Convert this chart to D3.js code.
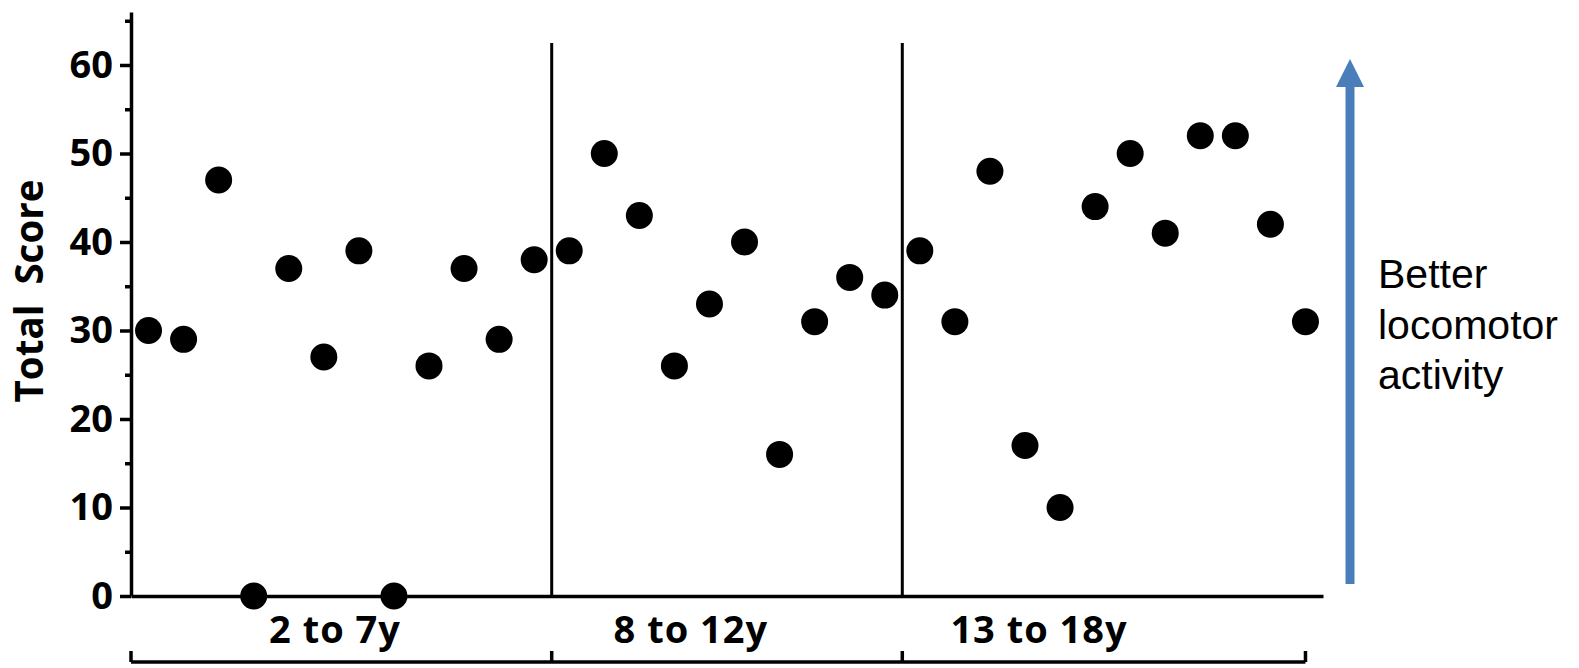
<!DOCTYPE html>
<html>
<head>
<meta charset="utf-8">
<script src="https://cdn.jsdelivr.net/npm/d3@7"></script>
<style>
  body { margin: 0; background: #fff; }
  svg { display: block; }
</style>
</head>
<body>
<div id="chart"></div>
<script>
// data
var groups = ["2 to 7y", "8 to 12y", "13 to 18y"];
var group1 = [30, 29, 47, 0, 37, 27, 39, 0, 26, 37, 29, 38];
var group2 = [39, 50, 43, 26, 33, 40, 16, 31, 36, 34];
var group3 = [39, 31, 48, 17, 10, 44, 50, 41, 52, 52, 42, 31];
var yTicks = [0, 10, 20, 30, 40, 50, 60];
var yMinor = [5, 15, 25, 35, 45, 55, 65];
var labelPos = [5.82, 15.97, 25.9];   // group label centres, in point-index units
var annotation = ["Better", "locomotor", "activity"];

var W = 1579, H = 668;
var left = 131, right = 1323, bottom = 596;

var svg = d3.select("#chart")
  .append("svg")
    .attr("width", W)
    .attr("height", H);

// flatten the groups into one row of points
var points = [];
[group1, group2, group3].forEach(function(g, gi) {
  g.forEach(function(v) { points.push({group: gi, value: v}); });
});
var n = points.length;

// boundaries between groups, in index units
var bounds = [group1.length, group1.length + group2.length];

var x = d3.scaleLinear()
  .domain([0, n])
  .range([left, right]);

var y = d3.scaleLinear()
  .domain([0, 66])
  .range([bottom, bottom - 66 * 8.85]);

// Y axis, major ticks
var yAxis = svg.append("g")
  .attr("transform", "translate(" + left + ",0)")
  .call(d3.axisLeft(y).tickValues(yTicks).tickSize(11).tickSizeOuter(0).tickPadding(7));
yAxis.select(".domain").attr("stroke", "#000").attr("stroke-width", 3.5);
yAxis.selectAll(".tick line").attr("stroke", "#000").attr("stroke-width", 3.5);
yAxis.selectAll(".tick text")
  .style("font-family", "'Open Sans', sans-serif")
  .style("font-weight", "bold")
  .style("font-size", "38px")
  .attr("fill", "#000");

// Y axis, minor ticks
var yMinorAxis = svg.append("g")
  .attr("transform", "translate(" + left + ",0)")
  .call(d3.axisLeft(y).tickValues(yMinor).tickSize(6).tickFormat(""));
yMinorAxis.select(".domain").remove();
yMinorAxis.selectAll(".tick line").attr("stroke", "#000").attr("stroke-width", 3.5);

// X axis line
var xAxis = svg.append("g")
  .attr("transform", "translate(0," + y(0) + ")")
  .call(d3.axisBottom(x).tickValues([]).tickSizeOuter(0));
xAxis.select(".domain").attr("stroke", "#000").attr("stroke-width", 3.5);

// group dividers
svg.selectAll(".divider")
  .data(bounds)
  .enter()
  .append("line")
    .attr("class", "divider")
    .attr("x1", function(d) { return x(d); })
    .attr("x2", function(d) { return x(d); })
    .attr("y1", y(0))
    .attr("y2", y(62.5))
    .attr("stroke", "#000")
    .attr("stroke-width", 3);

// dots
svg.selectAll(".dot")
  .data(points)
  .enter()
  .append("circle")
    .attr("class", "dot")
    .attr("cx", function(d, i) { return x(i + 0.5); })
    .attr("cy", function(d) { return y(d.value); })
    .attr("r", 13.5)
    .attr("fill", "#000");

// group labels
svg.selectAll(".glabel")
  .data(groups)
  .enter()
  .append("text")
    .attr("class", "glabel")
    .attr("x", function(d, i) { return x(labelPos[i]); })
    .attr("y", 643)
    .attr("text-anchor", "middle")
    .style("font-family", "'Open Sans', sans-serif")
    .style("font-weight", "bold")
    .style("font-size", "38px")
    .style("letter-spacing", "1px")
    .text(function(d) { return d; });

// bottom bracket
var bracketY = 662;
var bracketTicks = [0].concat(bounds).concat([n - 0.5]);
svg.append("line")
  .attr("x1", x(0))
  .attr("x2", x(n - 0.5))
  .attr("y1", bracketY)
  .attr("y2", bracketY)
  .attr("stroke", "#000")
  .attr("stroke-width", 3.5);
svg.selectAll(".btick")
  .data(bracketTicks)
  .enter()
  .append("line")
    .attr("class", "btick")
    .attr("x1", function(d) { return x(d); })
    .attr("x2", function(d) { return x(d); })
    .attr("y1", bracketY)
    .attr("y2", bracketY - 11)
    .attr("stroke", "#000")
    .attr("stroke-width", 3.5);

// y axis title
svg.append("text")
  .attr("transform", "translate(43,291) rotate(-90)")
  .attr("text-anchor", "middle")
  .style("font-family", "'Open Sans', sans-serif")
  .style("font-weight", "bold")
  .style("font-size", "38.5px")
  .style("white-space", "pre")
  .text("Total  Score");

// blue arrow
var arrowX = 1350;
svg.append("line")
  .attr("x1", arrowX)
  .attr("x2", arrowX)
  .attr("y1", 584)
  .attr("y2", 85)
  .attr("stroke", "#4a7ebb")
  .attr("stroke-width", 9);
svg.append("path")
  .attr("d", "M" + (arrowX - 14) + ",87L" + arrowX + ",59L" + (arrowX + 14) + ",87Z")
  .attr("fill", "#4a7ebb");

// annotation text
svg.selectAll(".note")
  .data(annotation)
  .enter()
  .append("text")
    .attr("class", "note")
    .attr("x", 1378)
    .attr("y", function(d, i) { return 288 + i * 50.5; })
    .style("font-family", "'Liberation Sans', Arial, sans-serif")
    .style("font-size", "41px")
    .attr("fill", "#000")
    .text(function(d) { return d; });
</script>
</body>
</html>
